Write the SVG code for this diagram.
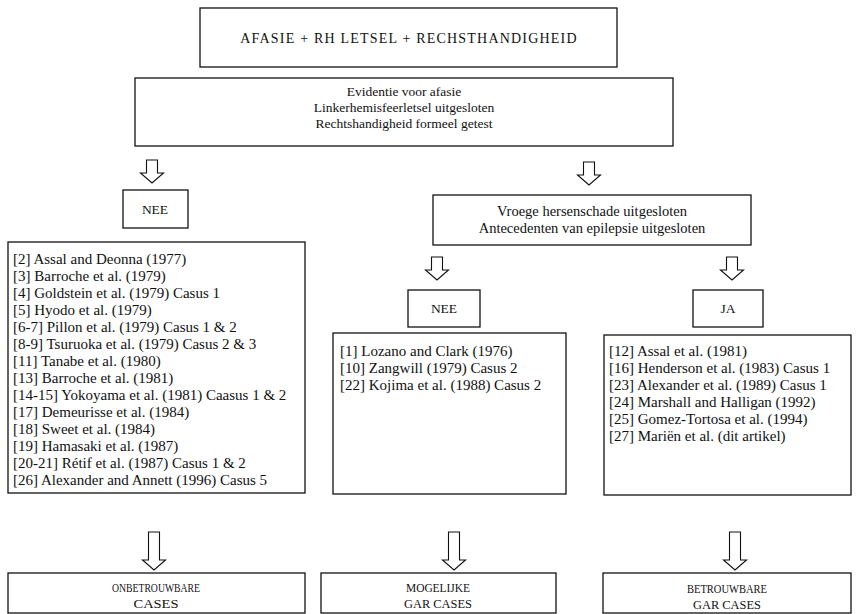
<svg xmlns="http://www.w3.org/2000/svg" width="856" height="614" viewBox="0 0 856 614">
<style>
.box{fill:#fff;stroke:#111;stroke-width:1.3}
text{font-family:'Liberation Serif','DejaVu Serif',serif;fill:#111}
.t{font-size:15px}
.h{font-size:13.5px}
.v{font-size:14.5px}
.ti{font-size:14px;letter-spacing:1.2px}
.c{text-anchor:middle}
.r{font-size:13px}
.arr{fill:#fff;stroke:#111;stroke-width:1.1;stroke-linejoin:miter}
</style>
<defs>
<path id="arrow" d="M-5.5,0 V-13 H5.5 V0 H11.5 L0,10 L-11.5,0 Z"/>
<path id="arrowL" d="M-5.5,0 V-28 H5.5 V0 H11.5 L0,10 L-11.5,0 Z"/>
</defs>
<rect width="856" height="614" fill="#fff"/>

<g id="connectors">
<use href="#arrow" class="arr" transform="translate(152,173)"/>
<use href="#arrow" class="arr" transform="translate(589,175)"/>
<use href="#arrow" class="arr" transform="translate(437,270)"/>
<use href="#arrow" class="arr" transform="translate(732,270)"/>
<use href="#arrowL" class="arr" transform="translate(154,560)"/>
<use href="#arrowL" class="arr" transform="translate(454,560)"/>
<use href="#arrowL" class="arr" transform="translate(735,560)"/>
</g>

<g id="start">
<rect class="box" x="200" y="8" width="417" height="59"/>
<text class="ti c" x="409" y="43">AFASIE + RH LETSEL + RECHSTHANDIGHEID</text>
</g>

<g id="criteria">
<rect class="box" x="135" y="78" width="538" height="68"/>
<text class="h c" x="404" y="96">Evidentie voor afasie</text>
<text class="h c" x="404" y="112">Linkerhemisfeerletsel uitgesloten</text>
<text class="h c" x="404" y="128">Rechtshandigheid formeel getest</text>
</g>

<g id="nee1">
<rect class="box" x="123" y="190" width="65" height="38"/>
<text class="h c" x="155" y="214">NEE</text>
</g>

<g id="vroege">
<rect class="box" x="433" y="195" width="318" height="50"/>
<text class="v c" x="592" y="216">Vroege hersenschade uitgesloten</text>
<text class="v c" x="592" y="233">Antecedenten van epilepsie uitgesloten</text>
</g>

<g id="nee2">
<rect class="box" x="408" y="290" width="72" height="37"/>
<text class="h c" x="444" y="313">NEE</text>
</g>

<g id="ja">
<rect class="box" x="693" y="290" width="70" height="37"/>
<text class="h c" x="728" y="313">JA</text>
</g>

<g id="list-left">
<rect class="box" x="8" y="242" width="297" height="251"/>
<text class="t" x="13" y="264">[2] Assal and Deonna (1977)</text>
<text class="t" x="13" y="281">[3] Barroche et al. (1979)</text>
<text class="t" x="13" y="298">[4] Goldstein et al. (1979) Casus 1</text>
<text class="t" x="13" y="315">[5] Hyodo et al. (1979)</text>
<text class="t" x="13" y="332">[6-7] Pillon et al. (1979) Casus 1 &amp; 2</text>
<text class="t" x="13" y="349">[8-9] Tsuruoka et al. (1979) Casus 2 &amp; 3</text>
<text class="t" x="13" y="366">[11] Tanabe et al. (1980)</text>
<text class="t" x="13" y="383">[13] Barroche et al. (1981)</text>
<text class="t" x="13" y="400">[14-15] Yokoyama et al. (1981) Caasus 1 &amp; 2</text>
<text class="t" x="13" y="417">[17] Demeurisse et al. (1984)</text>
<text class="t" x="13" y="434">[18] Sweet et al. (1984)</text>
<text class="t" x="13" y="451">[19] Hamasaki et al. (1987)</text>
<text class="t" x="13" y="468">[20-21] Rétif et al. (1987) Casus 1 &amp; 2</text>
<text class="t" x="13" y="485">[26] Alexander and Annett (1996) Casus 5</text>
</g>

<g id="list-middle">
<rect class="box" x="333" y="333" width="233" height="161"/>
<text class="t" x="340" y="356">[1] Lozano and Clark (1976)</text>
<text class="t" x="340" y="373">[10] Zangwill (1979) Casus 2</text>
<text class="t" x="340" y="390">[22] Kojima et al. (1988) Casus 2</text>
</g>

<g id="list-right">
<rect class="box" x="604" y="335" width="247" height="160"/>
<text class="t" x="609" y="356">[12] Assal et al. (1981)</text>
<text class="t" x="609" y="373">[16] Henderson et al. (1983) Casus 1</text>
<text class="t" x="609" y="390">[23] Alexander et al. (1989) Casus 1</text>
<text class="t" x="609" y="407">[24] Marshall and Halligan (1992)</text>
<text class="t" x="609" y="424">[25] Gomez-Tortosa et al. (1994)</text>
<text class="t" x="609" y="441">[27] Mariën et al. (dit artikel)</text>
</g>

<g id="result-left">
<rect class="box" x="8" y="573" width="297" height="40"/>
<text class="r c" x="156" y="592" textLength="88" lengthAdjust="spacingAndGlyphs">ONBETROUWBARE</text>
<text class="r c" x="156" y="608" textLength="45" lengthAdjust="spacingAndGlyphs">CASES</text>
</g>

<g id="result-middle">
<rect class="box" x="321" y="573" width="235" height="40"/>
<text class="r c" x="438" y="592" textLength="64" lengthAdjust="spacingAndGlyphs">MOGELIJKE</text>
<text class="r c" x="438" y="608" textLength="68" lengthAdjust="spacingAndGlyphs">GAR CASES</text>
</g>

<g id="result-right">
<rect class="box" x="603" y="573" width="248" height="40"/>
<text class="r c" x="727" y="593" textLength="80" lengthAdjust="spacingAndGlyphs">BETROUWBARE</text>
<text class="r c" x="727" y="609" textLength="68" lengthAdjust="spacingAndGlyphs">GAR CASES</text>
</g>
</svg>
